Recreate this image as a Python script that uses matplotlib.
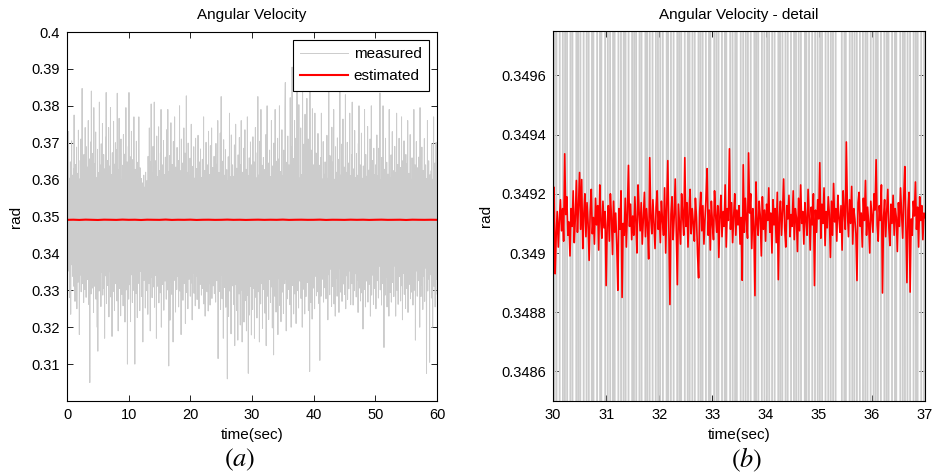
import numpy as np
import matplotlib
matplotlib.use("Agg")
import matplotlib.pyplot as plt
from matplotlib.ticker import FuncFormatter

# measured angular velocity, rad x 1e4, sampled every 0.05 s from 0 to 60 s
measured_e4 = [
    3462, 3618, 3365, 3590, 3410, 3730, 3352, 3604, 3280, 3575, 3398, 3648, 3235, 3560, 3421, 3705, 3369, 3612, 3338, 3584,
    3402, 3629, 3311, 3775, 3387, 3566, 3270, 3641, 3428, 3595, 3349, 3688, 3250, 3617, 3395, 3563, 3322, 3734, 3408, 3602,
    3180, 3596, 3341, 3652, 3409, 3710, 3296, 3583, 3372, 3847, 3318, 3625, 3433, 3570, 3267, 3668, 3390, 3612, 3302, 3741,
    3356, 3603, 3281, 3689, 3420, 3572, 3329, 3634, 3398, 3760, 3262, 3591, 3415, 3656, 3050, 3617, 3347, 3702, 3290, 3840,
    3374, 3588, 3306, 3671, 3425, 3620, 3240, 3795, 3362, 3567, 3311, 3644, 3402, 3729, 3276, 3605, 3385, 3561, 3200, 3682,
    3135, 3619, 3367, 3586, 3298, 3810, 3419, 3640, 3330, 3575, 3256, 3697, 3401, 3601, 3348, 3752, 3287, 3563, 3412, 3668,
    3305, 3629, 3170, 3598, 3391, 3715, 3339, 3836, 3264, 3580, 3423, 3652, 3313, 3604, 3377, 3741, 3228, 3569, 3396, 3637,
    3350, 3795, 3282, 3614, 3406, 3571, 3175, 3673, 3366, 3609, 3297, 3758, 3419, 3588, 3245, 3642, 3383, 3700, 3318, 3565,
    3402, 3681, 3271, 3834, 3355, 3593, 3190, 3627, 3418, 3766, 3305, 3579, 3371, 3650, 3231, 3710, 3392, 3600, 3289, 3574,
    3360, 3639, 3258, 3722, 3411, 3586, 3323, 3669, 3214, 3604, 3389, 3795, 3301, 3571, 3426, 3648, 3100, 3617, 3345, 3690,
    3276, 3836, 3398, 3575, 3315, 3662, 3215, 3599, 3420, 3731, 3342, 3608, 3267, 3654, 3381, 3566, 3300, 3770, 3409, 3593,
    3100, 3628, 3357, 3582, 3291, 3704, 3414, 3570, 3226, 3647, 3372, 3615, 3319, 3770, 3398, 3561, 3245, 3632, 3351, 3584,
    3412, 3603, 3283, 3574, 3366, 3591, 3160, 3556, 3390, 3612, 3327, 3567, 3421, 3580, 3252, 3620, 3345, 3549, 3299, 3597,
    3384, 3571, 3235, 3663, 3402, 3598, 3318, 3740, 3371, 3582, 3190, 3649, 3415, 3805, 3336, 3576, 3280, 3617, 3397, 3690,
    3309, 3602, 3388, 3810, 3254, 3586, 3423, 3651, 3340, 3579, 3170, 3718, 3378, 3608, 3311, 3569, 3402, 3743, 3266, 3625,
    3360, 3594, 3293, 3672, 3417, 3790, 3200, 3585, 3352, 3640, 3316, 3573, 3405, 3706, 3246, 3614, 3389, 3580, 3325, 3661,
    3418, 3598, 3276, 3735, 3364, 3570, 3301, 3790, 3395, 3622, 3095, 3588, 3353, 3665, 3219, 3603, 3410, 3754, 3322, 3577,
    3289, 3641, 3396, 3567, 3160, 3703, 3375, 3615, 3327, 3770, 3406, 3583, 3241, 3634, 3364, 3578, 3302, 3687, 3419, 3596,
    3337, 3652, 3255, 3588, 3412, 3800, 3298, 3571, 3383, 3624, 3180, 3710, 3356, 3599, 3421, 3645, 3273, 3566, 3389, 3740,
    3318, 3607, 3399, 3672, 3210, 3585, 3361, 3827, 3294, 3620, 3410, 3577, 3250, 3699, 3373, 3612, 3330, 3564, 3401, 3658,
    3284, 3601, 3376, 3750, 3320, 3582, 3220, 3636, 3415, 3568, 3347, 3689, 3292, 3604, 3384, 3575, 3258, 3712, 3402, 3591,
    3339, 3630, 3275, 3580, 3410, 3720, 3322, 3594, 3250, 3648, 3390, 3567, 3316, 3683, 3427, 3606, 3287, 3571, 3371, 3655,
    3305, 3597, 3414, 3770, 3263, 3579, 3380, 3625, 3230, 3588, 3356, 3701, 3401, 3569, 3296, 3640, 3369, 3583, 3244, 3731,
    3390, 3614, 3318, 3576, 3260, 3692, 3407, 3601, 3345, 3740, 3278, 3572, 3418, 3633, 3312, 3589, 3377, 3663, 3291, 3578,
    3352, 3606, 3268, 3698, 3409, 3571, 3326, 3642, 3385, 3760, 3115, 3584, 3362, 3619, 3297, 3567, 3413, 3726, 3248, 3600,
    3825, 3341, 3593, 3277, 3650, 3405, 3577, 3170, 3708, 3366, 3612, 3308, 3569, 3395, 3681, 3254, 3590, 3372, 3627, 3321,
    3060, 3596, 3384, 3662, 3229, 3575, 3351, 3780, 3298, 3608, 3415, 3566, 3182, 3721, 3366, 3589, 3312, 3640, 3401, 3572,
    3262, 3609, 3348, 3694, 3150, 3580, 3396, 3750, 3315, 3568, 3245, 3631, 3378, 3603, 3165, 3667, 3412, 3586, 3290, 3714,
    3357, 3578, 3206, 3641, 3389, 3760, 3301, 3592, 3160, 3620, 3406, 3573, 3336, 3685, 3214, 3598, 3380, 3735, 3272, 3567,
    3410, 3628, 3190, 3583, 3345, 3770, 3286, 3611, 3075, 3596, 3372, 3659, 3233, 3574, 3398, 3702, 3310, 3589, 3179, 3640,
    3364, 3600, 3248, 3716, 3402, 3574, 3305, 3648, 3170, 3587, 3390, 3741, 3281, 3605, 3357, 3568, 3225, 3673, 3411, 3825,
    3296, 3612, 3373, 3580, 3160, 3704, 3344, 3597, 3263, 3790, 3408, 3571, 3318, 3639, 3197, 3586, 3381, 3660, 3302, 3575,
    3419, 3627, 3238, 3568, 3352, 3722, 3150, 3603, 3391, 3800, 3284, 3579, 3366, 3645, 3221, 3590, 3405, 3680, 3329, 3572,
    3267, 3608, 3383, 3760, 3309, 3584, 3198, 3637, 3395, 3569, 3125, 3699, 3350, 3614, 3284, 3790, 3414, 3582, 3241, 3650,
    3372, 3595, 3301, 3712, 3180, 3577, 3408, 3656, 3331, 3800, 3259, 3588, 3387, 3622, 3215, 3571, 3363, 3735, 3295, 3610,
    3411, 3582, 3237, 3680, 3356, 3603, 3318, 3794, 3863, 3330, 3574, 3190, 3647, 3392, 3610, 3277, 3718, 3365, 3592, 3302,
    3640, 3405, 3573, 3261, 3822, 3349, 3605, 3200, 3688, 3396, 3905, 3313, 3581, 3372, 3657, 3236, 3600, 3408, 3760, 3290,
    3597, 3381, 3712, 3210, 3621, 3357, 3860, 3299, 3585, 3412, 3669, 3252, 3803, 3366, 3604, 3325, 3571, 3397, 3740, 3278,
    3613, 3345, 3585, 3200, 3840, 3389, 3628, 3303, 3696, 3418, 3579, 3236, 3777, 3360, 3602, 3283, 3650, 3406, 3820, 3321,
    3576, 3374, 3710, 3245, 3625, 3398, 3590, 3080, 3850, 3335, 3603, 3267, 3680, 3411, 3571, 3222, 3792, 3356, 3614, 3306,
    3640, 3390, 3582, 3250, 3780, 3338, 3597, 3417, 3672, 3285, 3611, 3369, 3575, 3296, 3725, 3402, 3593, 3264, 3639, 3351,
    3110, 3586, 3396, 3660, 3284, 3780, 3361, 3602, 3330, 3577, 3418, 3703, 3268, 3615, 3385, 3569, 3307, 3648, 3414, 3591,
    3277, 3627, 3375, 3720, 3320, 3588, 3220, 3604, 3406, 3840, 3342, 3573, 3288, 3665, 3419, 3597, 3357, 3611, 3256, 3742,
    3380, 3582, 3310, 3648, 3421, 3790, 3263, 3601, 3366, 3575, 3230, 3689, 3402, 3620, 3333, 3570, 3284, 3713, 3394, 3606,
    3325, 3655, 3240, 3586, 3409, 3840, 3358, 3612, 3295, 3578, 3421, 3696, 3270, 3607, 3383, 3764, 3317, 3581, 3405, 3634,
    3289, 3599, 3377, 3830, 3250, 3620, 3412, 3576, 3339, 3701, 3275, 3593, 3393, 3645, 3304, 3572, 3420, 3780, 3352, 3611,
    3261, 3583, 3395, 3667, 3318, 3810, 3404, 3598, 3260, 3629, 3372, 3574, 3299, 3733, 3416, 3605, 3345, 3587, 3282, 3671,
    3400, 3612, 3327, 3578, 3240, 3698, 3381, 3800, 3306, 3591, 3419, 3640, 3271, 3570, 3358, 3726, 3293, 3604, 3410, 3583,
    3195, 3637, 3364, 3589, 3302, 3790, 3415, 3575, 3255, 3668, 3389, 3609, 3325, 3581, 3402, 3744, 3268, 3596, 3371, 3626,
    3316, 3590, 3407, 3710, 3230, 3604, 3361, 3800, 3287, 3577, 3418, 3652, 3341, 3569, 3262, 3685, 3396, 3614, 3305, 3588,
    3378, 3640, 3250, 3593, 3412, 3721, 3326, 3580, 3398, 3611, 3279, 3685, 3365, 3578, 3420, 3835, 3301, 3600, 3352, 3567,
    3260, 3660, 3394, 3590, 3318, 3800, 3417, 3573, 3145, 3628, 3370, 3599, 3287, 3712, 3403, 3585, 3336, 3647, 3255, 3576,
    3409, 3615, 3342, 3581, 3230, 3790, 3376, 3606, 3294, 3572, 3415, 3667, 3268, 3591, 3388, 3730, 3321, 3579, 3401, 3624,
    3283, 3597, 3366, 3690, 3411, 3574, 3230, 3620, 3354, 3780, 3300, 3585, 3422, 3641, 3262, 3570, 3390, 3712, 3337, 3602,
    3404, 3633, 3271, 3580, 3375, 3770, 3312, 3596, 3220, 3651, 3398, 3571, 3346, 3705, 3289, 3612, 3417, 3584, 3251, 3668,
    3363, 3578, 3305, 3644, 3421, 3760, 3240, 3590, 3382, 3617, 3316, 3573, 3407, 3722, 3277, 3601, 3355, 3586, 3295, 3659,
    3411, 3620, 3260, 3583, 3369, 3790, 3300, 3597, 3398, 3640, 3165, 3575, 3352, 3703, 3418, 3588, 3284, 3632, 3379, 3570,
    3326, 3661, 3405, 3584, 3200, 3795, 3347, 3606, 3283, 3572, 3414, 3688, 3314, 3593, 3248, 3625, 3391, 3578, 3338, 3711,
    3270, 3592, 3406, 3640, 3360, 3580, 3075, 3603, 3384, 3760, 3298, 3574, 3415, 3651, 3330, 3588, 3105, 3613, 3397, 3577,
    3342, 3624, 3279, 3698, 3410, 3582, 3200, 3601, 3365, 3770, 3311, 3576, 3402, 3645, 3255, 3589, 3388, 3701, 3329, 3660,
    3290,
]
measured_dt = 0.05

# estimated angular velocity over the full run, offset from 0.349 rad in micro-rad, one value per second
est_full_urad = [
    90, 130, 70, 150, 105, 60, 140, 115, 80, 160, 100, 125, 55, 135, 110, 90, 170, 75, 120, 100,
    145, 65, 115, 130, 85, 105, 155, 95, 120, 70, 110, 140, 90, 125, 100, 160, 80, 115, 135, 95,
    105, 150, 70, 120, 110, 85, 140, 100, 130, 75, 115, 145, 90, 105, 125, 60, 135, 110, 95, 120,
    100,
]

# estimated angular velocity between 30 s and 37 s, offset from 0.349 rad in micro-rad, every 0.02 s
est_detail_urad = [
    95, 222, -70, 60, 140, 20, 110, 180, 75, 150, 40, 335, 130, 190, 60, 105, -10, 150, 90, 210, 35, 120, 245, 70, 160,
    272, 80, 248, 15, 130, 200, 55, 170, 100, -25, 140, 215, 65, 120, 30, 185, 95, 160, 10, 230, 110, 50, 175, 85, 140,
    -110, 95, 160, 40, 200, 120, -5, 175, 70, 135, 25, -126, 150, 80, 210, -150, 100, 60, 185, 20, 140, 296, 90, 165, 45,
    125, 60, 190, 105, 0, 230, 140, 75, 170, 30, 115, 205, 55, 150, 90, -20, 322, 120, 65, 180, 100, 15, 155, 210, 80,
    140, 35, 175, 110, 60, 220, 0, 150, 312, 85, -174, 130, 190, 45, 120, 250, 70, -107, 165, 95, 30, 200, 125, 60, 322,
    90, 170, 20, 135, 215, 65, 150, 100, 40, 185, 120, -5, -84, 140, 205, 75, 160, 30, 115, 190, 285, 60, 145, 10, 175,
    100, 45, 210, 130, 70, 160, -15, 125, 195, 55, 140, 90, 230, 20, 150, 110, 352, 80, 170, 35, 125, 200, 60, 145, 95,
    160, 30, 120, -92, 298, 70, 185, 110, 50, 338, 135, 200, 15, 150, 90, -144, 240, 105, 60, 175, 125, -10, 190, 80, 145,
    40, 165, 110, 220, 70, 135, 0, 180, 95, 150, 35, 205, -90, 120, 175, 60, 140, 250, 85, 20, 160, 115, 195, 55, 130,
    90, 210, 45, 150, 120, 5, 185, 75, 230, 100, 140, 30, 170, 110, 60, 215, 125, 10, 155, 95, 200, -110, 145, 70, 180,
    115, 305, 50, 165, 100, 220, 25, 140, 85, 190, 130, -15, 175, 60, 235, 105, 150, 40, 195, 120, 70, 160, 10, 210, 135,
    80, 375, 140, 55, 180, 100, 225, 30, 150, 115, 65, -93, 170, 205, 90, 135, 20, 185, 110, 245, 60, 155, 100, 0, 175,
    125, 70, 200, 145, 315, 95, 40, 160, 110, 230, -135, 120, 180, 55, 140, 215, 85, 25, 165, 100, 195, 60, 150, 120, 5,
    170, 90, 220, 130, 50, 185, 292, 100, -100, 145, 205, -132, 115, 60, 175, 125, 240, 80, 155, 20, 190, 110, 160, 45, 135,
    120,
]
detail_start, detail_end = 30, 37

measured = np.array(measured_e4) / 1e4
t_meas = np.arange(len(measured)) * measured_dt
est_full = 0.349 + np.array(est_full_urad) * 1e-6
t_est_full = np.linspace(0, 60, len(est_full))
est_detail = 0.349 + np.array(est_detail_urad) * 1e-6
t_est_detail = np.linspace(detail_start, detail_end, len(est_detail))

plt.rcParams["font.family"] = ["Liberation Sans", "DejaVu Sans"]
plt.rcParams["mathtext.fontset"] = "stix"

grey = "#cccccc"
W, H = 934, 475
fig = plt.figure(figsize=(W / 100, H / 100), dpi=100)
ax1 = fig.add_axes([67 / W, 1 - 401 / H, 370 / W, 369 / H])
ax2 = fig.add_axes([553 / W, 1 - 401 / H, 372 / W, 370 / H])

fmt = FuncFormatter(lambda v, p: f"{v:g}")

# (a) full run
ax1.plot(t_meas, measured, color=grey, lw=0.7, label="measured")
ax1.plot(t_est_full, est_full, color="red", lw=1.5, label="estimated")
ax1.set_xlim(0, 60)
ax1.set_ylim(0.3, 0.4)
ax1.set_xticks(np.arange(0, 61, 10))
ax1.set_yticks(np.round(np.arange(0.31, 0.401, 0.01), 2))
ax1.set_title("Angular Velocity", fontsize=11, pad=9)
leg = ax1.legend(loc="upper right", fontsize=11, fancybox=False, framealpha=1,
                 edgecolor="black", handlelength=3.1, handletextpad=0.4,
                 borderaxespad=0.5, borderpad=0.5, labelspacing=0.5)
leg.get_frame().set_linewidth(0.8)

# (b) detail
ax2.plot(t_meas, measured, color=grey, lw=1.3)
ax2.plot(t_est_detail, est_detail, color="red", lw=1.2)
ax2.set_xlim(detail_start, detail_end)
ax2.set_ylim(0.3485, 0.34975)
ax2.set_xticks(np.arange(detail_start, detail_end + 1, 1))
ax2.set_yticks(np.round(np.arange(0.3486, 0.34961, 0.0002), 4))
ax2.set_title("Angular Velocity - detail", fontsize=11, pad=9)

for ax in (ax1, ax2):
    ax.yaxis.set_major_formatter(fmt)
    ax.set_xlabel("time(sec)", fontsize=11, labelpad=4)
    ax.set_ylabel("rad", fontsize=11, labelpad=6)
    ax.tick_params(direction="in", top=True, right=True, length=4, width=0.6,
                   labelsize=10.5, pad=5)
    for s in ax.spines.values():
        s.set_linewidth(0.8)

fig.text(240 / W, 1 - 460 / H, r"$(a)$", ha="center", va="center", fontsize=19)
fig.text(747 / W, 1 - 460 / H, r"$(b)$", ha="center", va="center", fontsize=19)

fig.savefig("out.png", dpi=100)
